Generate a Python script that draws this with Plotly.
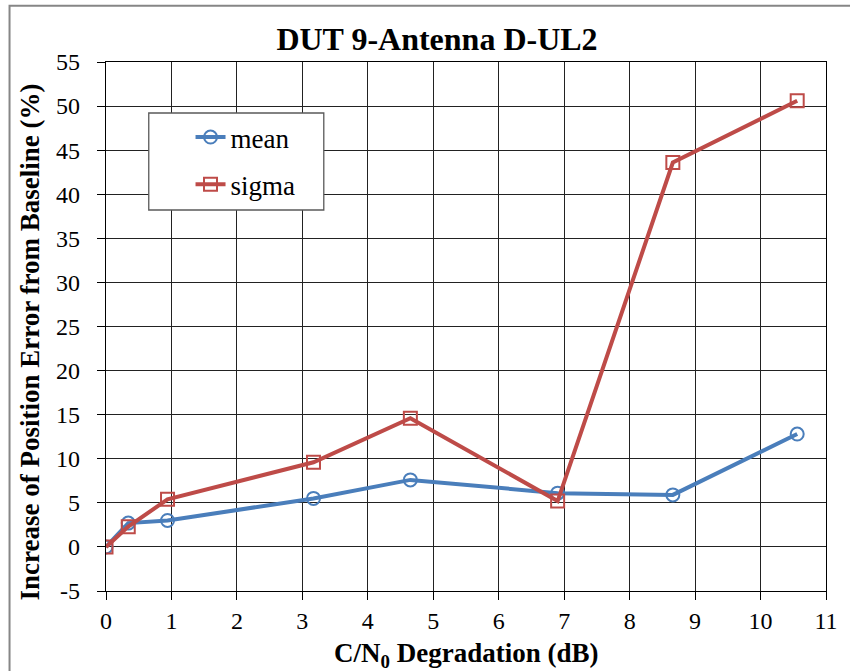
import plotly.graph_objects as go

# C/N0 degradation (dB) for each test point
degradation_db = [0, 0.34, 0.94, 3.17, 4.65, 6.90, 8.66, 10.56]
# Increase of position error from baseline (%)
mean_pct = [0, 2.7, 3.0, 5.5, 7.6, 6.1, 5.9, 12.8]
sigma_pct = [0, 2.3, 5.4, 9.6, 14.6, 5.2, 43.6, 50.6]

x_ticks = list(range(0, 12))
y_ticks = list(range(-5, 56, 5))

FONT = "Liberation Serif"
BLUE = "#4A7EBB"
RED = "#BE4B48"

W, H = 850, 671
ML, MR, MT, MB = 106, 20, 62, 80
PW, PH = W - ML - MR, H - MT - MB


def px_x(p):
    return (p - ML) / PW


def px_y(p):
    return (H - MB - p) / PH


fig = go.Figure()
fig.add_trace(go.Scatter(
    x=degradation_db, y=mean_pct, name="mean", mode="lines+markers",
    legendgroup="a",
    line=dict(color=BLUE, width=4),
    marker=dict(symbol="circle-open", size=13, color=BLUE, line=dict(width=2, color=BLUE)),
))
fig.add_trace(go.Scatter(
    x=degradation_db, y=sigma_pct, name="sigma", mode="lines+markers",
    legendgroup="b",
    line=dict(color=RED, width=4),
    marker=dict(symbol="square-open", size=13, color=RED, line=dict(width=2, color=RED)),
))

axis_common = dict(
    showgrid=True, gridcolor="#222222", gridwidth=1,
    showline=True, linecolor="black", linewidth=1.3, mirror=True,
    ticks="outside", ticklen=8, tickcolor="black", tickwidth=1,
    tickfont=dict(family=FONT, size=24, color="black"),
    zeroline=False, fixedrange=True,
)

fig.update_xaxes(range=[0, 11], tickvals=x_ticks, ticktext=[str(v) for v in x_ticks],
                 ticklabelstandoff=0, **axis_common)
fig.update_yaxes(range=[-5, 55], tickvals=y_ticks, ticktext=[str(v) for v in y_ticks],
                 ticklabelstandoff=12, **axis_common)

fig.update_layout(
    width=W, height=H,
    margin=dict(l=ML, r=MR, t=MT, b=MB, pad=0),
    paper_bgcolor="white", plot_bgcolor="white",
    font=dict(family=FONT, color="black"),
    title=dict(text="<b>DUT 9-Antenna D-UL2</b>", font=dict(family=FONT, size=32, color="black"),
               xref="container", x=437 / W, xanchor="center",
               yref="container", y=1 - 39 / H, yanchor="middle"),
    showlegend=True,
    legend=dict(x=px_x(191), y=px_y(113), xanchor="left", yanchor="top",
                bgcolor="rgba(0,0,0,0)", borderwidth=0,
                font=dict(family=FONT, size=27, color="black"),
                traceorder="grouped", tracegroupgap=9),
    annotations=[
        dict(text="<b>C/N<sub>0</sub> Degradation (dB)</b>", xref="paper", yref="paper",
             x=0.5, y=px_y(655), xanchor="center", yanchor="middle", showarrow=False,
             font=dict(family=FONT, size=27, color="black")),
        dict(text="<b>Increase of Position Error from Baseline (%)</b>", xref="paper", yref="paper",
             x=px_x(30), y=px_y(342), xanchor="center", yanchor="middle", textangle=-90,
             showarrow=False, font=dict(family=FONT, size=27, color="black")),
    ],
    shapes=[
        # legend frame
        dict(type="rect", xref="paper", yref="paper", layer="above",
             x0=px_x(149), x1=px_x(325), y0=px_y(210), y1=px_y(113),
             fillcolor="white", line=dict(color="#595959", width=1.3)),
        # chart area border (left and top edges)
        dict(type="path", xref="paper", yref="paper", layer="above",
             path=f"M {px_x(9)},{px_y(H + 5)} L {px_x(9)},{px_y(5.7)} L {px_x(W + 5)},{px_y(5.7)}",
             line=dict(color="#868686", width=2)),
    ],
)

fig.write_html("out.html")
